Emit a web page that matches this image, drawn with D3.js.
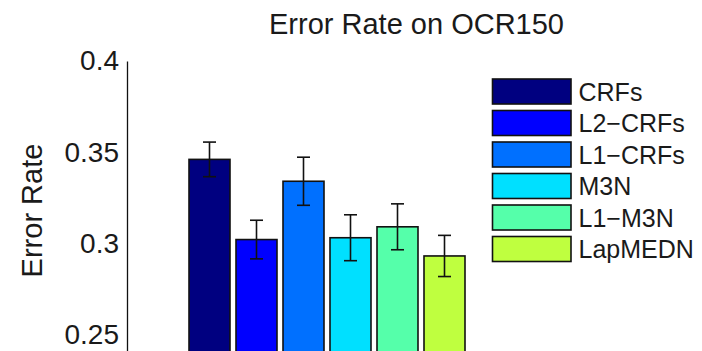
<!DOCTYPE html>
<html>
<head>
<meta charset="utf-8">
<script src="https://cdn.jsdelivr.net/npm/d3@7"></script>
<style>
  html, body { margin: 0; padding: 0; background: #fff; }
  svg { display: block; }
  text { font-family: "Liberation Sans", Arial, Helvetica, sans-serif; fill: #1a1a1a; }
</style>
</head>
<body>
<svg id="chart" width="702" height="351"></svg>
<script>
// Methods compared and their mean error rate with error bar half-widths
const methods = ["CRFs", "L2\u2212CRFs", "L1\u2212CRFs", "M3N", "L1\u2212M3N", "LapMEDN"];
const errorRate = [0.346, 0.302, 0.334, 0.303, 0.309, 0.293];
const errorSpread = [0.0095, 0.0106, 0.0132, 0.0126, 0.0126, 0.0113];
const barColors = ["#000080", "#0000ff", "#0070ff", "#00e0ff", "#55ffaa", "#bfff3f"];
const tickValues = [0.25, 0.3, 0.35, 0.4];
const tickLabels = ["0.25", "0.3", "0.35", "0.4"];

const svg = d3.select("#chart");

const y = d3.scaleLinear().domain([0.2, 0.4]).range([425.4, 61]);
const x = d3.scaleBand().domain(methods).range([186, 468])
  .paddingInner(6 / 47).paddingOuter(3 / 47);

// Y axis: plain spine with labels, no tick marks
const yAxis = d3.axisLeft(y)
  .tickValues(tickValues)
  .tickFormat((d, i) => tickLabels[i])
  .tickSizeInner(0).tickSizeOuter(0).tickPadding(8);

const gy = svg.append("g").attr("transform", "translate(127,0)").call(yAxis);
gy.select(".domain").attr("stroke", "#111").attr("stroke-width", 1.3);
gy.selectAll(".tick text")
  .attr("font-size", 28)
  .attr("font-family", "'Liberation Sans', Arial, sans-serif")
  .attr("fill", "#1a1a1a");

// Bars
svg.append("g").selectAll("rect")
  .data(methods)
  .join("rect")
  .attr("x", d => x(d))
  .attr("y", (d, i) => y(errorRate[i]))
  .attr("width", x.bandwidth())
  .attr("height", (d, i) => y(0.2) - y(errorRate[i]))
  .attr("fill", (d, i) => barColors[i])
  .attr("stroke", "#111")
  .attr("stroke-width", 1.6);

// Error bars
const eb = svg.append("g").attr("stroke", "#111").attr("stroke-width", 1.6);
methods.forEach((m, i) => {
  const cx = x(m) + x.bandwidth() / 2;
  const top = y(errorRate[i] + errorSpread[i]);
  const bot = y(errorRate[i] - errorSpread[i]);
  eb.append("line").attr("x1", cx).attr("x2", cx).attr("y1", top).attr("y2", bot);
  eb.append("line").attr("x1", cx - 6.5).attr("x2", cx + 6.5).attr("y1", top).attr("y2", top);
  eb.append("line").attr("x1", cx - 6.5).attr("x2", cx + 6.5).attr("y1", bot).attr("y2", bot);
});

// Title
svg.append("text")
  .attr("x", 416.5).attr("y", 34)
  .attr("text-anchor", "middle")
  .attr("font-size", 29)
  .text("Error Rate on OCR150");

// Y axis label
svg.append("text")
  .attr("transform", "translate(41.5,210.5) rotate(-90)")
  .attr("text-anchor", "middle")
  .attr("font-size", 29)
  .text("Error Rate");

// Legend
const legend = svg.append("g").attr("transform", "translate(492.5,79)");
const item = legend.selectAll("g")
  .data(methods)
  .join("g")
  .attr("transform", (d, i) => `translate(0,${i * 31.5})`);
item.append("rect")
  .attr("width", 78.5).attr("height", 25)
  .attr("fill", (d, i) => barColors[i])
  .attr("stroke", "#111").attr("stroke-width", 1.6);
item.append("text")
  .attr("x", 86).attr("y", 21.5)
  .attr("font-size", 25)
  .text(d => d);
</script>
</body>
</html>
